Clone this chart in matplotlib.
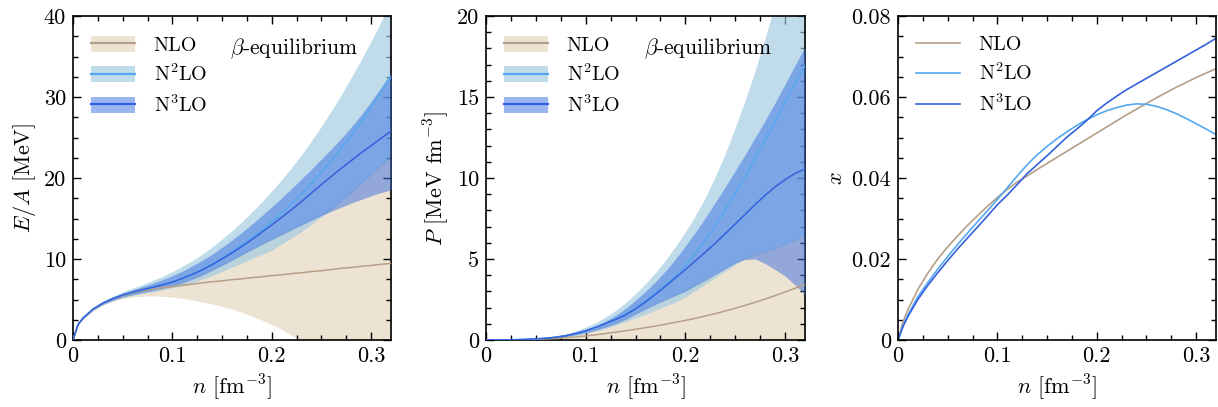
import matplotlib
matplotlib.use("Agg")
import matplotlib.pyplot as plt
from matplotlib.patches import Patch
from matplotlib.lines import Line2D
from matplotlib.ticker import MultipleLocator, FuncFormatter

plt.rcParams["font.family"] = ["cmr10"]
plt.rcParams["mathtext.fontset"] = "cm"
plt.rcParams["axes.formatter.use_mathtext"] = True
plt.rcParams["font.size"] = 15

# density grid [fm^-3]
n = [0, 0.005, 0.01, 0.02, 0.03, 0.04, 0.05, 0.06, 0.07, 0.08, 0.09, 0.10,
     0.11, 0.12, 0.13, 0.14, 0.15, 0.16, 0.17, 0.18, 0.19, 0.20, 0.21, 0.22,
     0.23, 0.24, 0.25, 0.26, 0.27, 0.28, 0.29, 0.30, 0.31, 0.32]

# energy per particle E/A [MeV]: central value, lower and upper band edge
ea_nlo = [0, 1.85, 2.65, 3.75, 4.5, 5.05, 5.45, 5.8, 6.05, 6.3, 6.45, 6.6,
          6.75, 6.9, 7.05, 7.2, 7.3, 7.45, 7.55, 7.7, 7.8, 7.95, 8.05, 8.2,
          8.3, 8.45, 8.55, 8.7, 8.85, 8.95, 9.1, 9.2, 9.35, 9.45]
ea_nlo_lo = [0, 1.8, 2.55, 3.6, 4.3, 4.8, 5.1, 5.3, 5.4, 5.45, 5.4, 5.3,
             5.15, 4.95, 4.7, 4.45, 4.15, 3.8, 3.4, 2.95, 2.45, 1.9, 1.3, 0.6,
             -0.15, -0.95, -1.8, -2.7, -3.6, -4.55, -5.5, -6.5, -7.5, -8.5]
ea_nlo_hi = [0, 1.95, 2.8, 3.95, 4.7, 5.3, 5.8, 6.2, 6.5, 6.7, 6.8, 6.95,
             7.35, 7.8, 8.3, 8.9, 9.5, 10.15, 10.8, 11.45, 12.1, 12.7, 13.3, 13.9,
             14.5, 15.1, 15.65, 16.5, 17.5, 18.5, 19.6, 20.7, 21.85, 23.0]
ea_n2lo = [0, 1.9, 2.7, 3.8, 4.55, 5.1, 5.55, 5.9, 6.2, 6.5, 6.8, 7.15,
           7.6, 8.1, 8.68, 9.35, 10.1, 10.9, 11.75, 12.65, 13.6, 14.6, 15.7, 16.85,
           18.05, 19.35, 20.7, 22.15, 23.65, 25.25, 26.95, 28.75, 30.6, 32.5]
ea_n2lo_lo = [0, 1.85, 2.6, 3.65, 4.35, 4.85, 5.25, 5.5, 5.75, 5.95, 6.2, 6.45,
              6.75, 7.1, 7.5, 7.95, 8.45, 9.0, 9.5, 10.05, 10.55, 11.1, 11.85, 12.6,
              13.4, 14.3, 15.25, 16.2, 17.2, 18.2, 19.3, 20.4, 21.55, 22.7]
ea_n2lo_hi = [0, 2.0, 2.8, 3.95, 4.8, 5.4, 5.95, 6.4, 6.85, 7.35, 7.85, 8.45,
              9.1, 9.8, 10.6, 11.5, 12.45, 13.5, 14.6, 15.8, 17.05, 18.4, 19.8, 21.3,
              22.9, 24.6, 26.4, 28.3, 30.3, 32.4, 34.6, 36.9, 39.3, 41.8]
ea_n3lo = [0, 1.9, 2.7, 3.8, 4.55, 5.1, 5.55, 5.9, 6.2, 6.5, 6.8, 7.15,
           7.6, 8.1, 8.65, 9.3, 10.0, 10.75, 11.55, 12.4, 13.3, 14.2, 15.15, 16.1,
           17.1, 18.15, 19.2, 20.2, 21.2, 22.15, 23.1, 24.0, 24.9, 25.8]
ea_n3lo_lo = [0, 1.85, 2.65, 3.7, 4.4, 4.9, 5.3, 5.6, 5.85, 6.1, 6.35, 6.65,
              7.05, 7.5, 8.0, 8.6, 9.2, 9.85, 10.5, 11.15, 11.8, 12.4, 13.0, 13.6,
              14.2, 14.8, 15.35, 15.9, 16.4, 16.9, 17.35, 17.8, 18.2, 18.55]
ea_n3lo_hi = [0, 1.95, 2.75, 3.9, 4.7, 5.3, 5.8, 6.2, 6.6, 7.0, 7.45, 7.95,
              8.5, 9.15, 9.85, 10.6, 11.45, 12.35, 13.3, 14.3, 15.35, 16.45, 17.55, 18.7,
              19.9, 21.1, 22.35, 23.6, 24.9, 26.3, 27.8, 29.45, 31.2, 33.0]

# pressure P [MeV fm^-3]
p_nlo = [0, 0, 0.001, 0.005, 0.012, 0.025, 0.045, 0.07, 0.1, 0.14, 0.19, 0.25,
         0.32, 0.4, 0.48, 0.57, 0.66, 0.76, 0.86, 0.97, 1.09, 1.21, 1.34, 1.48,
         1.63, 1.79, 1.96, 2.14, 2.33, 2.53, 2.74, 2.96, 3.19, 3.43]
p_nlo_lo = [0, 0, 0, 0.002, 0.005, 0.01, 0.015, 0.02, 0.02, 0.015, 0.0, -0.03,
            -0.07, -0.12, -0.18, -0.25, -0.33, -0.42, -0.52, -0.63, -0.75, -0.88, -1.02, -1.17,
            -1.33, -1.5, -1.68, -1.87, -2.07, -2.28, -2.5, -2.73, -2.97, -3.22]
p_nlo_hi = [0, 0, 0.002, 0.008, 0.02, 0.04, 0.07, 0.11, 0.16, 0.24, 0.35, 0.5,
            0.66, 0.87, 1.1, 1.37, 1.7, 2.0, 2.3, 2.6, 2.87, 3.12, 3.47, 3.82,
            4.17, 4.52, 4.87, 5.12, 5.32, 5.52, 5.72, 5.97, 6.22, 6.52]
p_n2lo = [0, 0, 0.002, 0.008, 0.02, 0.04, 0.07, 0.11, 0.17, 0.26, 0.4, 0.57,
          0.78, 1.02, 1.28, 1.58, 1.96, 2.4, 2.88, 3.4, 3.95, 4.6, 5.35, 6.15,
          7.05, 8.05, 9.05, 10.1, 11.2, 12.35, 13.5, 14.65, 15.8, 16.95]
p_n2lo_lo = [0, 0, 0.001, 0.006, 0.015, 0.03, 0.05, 0.08, 0.12, 0.18, 0.27, 0.38,
             0.52, 0.68, 0.88, 1.1, 1.32, 1.55, 1.8, 2.05, 2.3, 2.6, 3.0, 3.4,
             3.8, 4.2, 4.6, 5.0, 5.2, 5.4, 5.6, 5.85, 6.1, 6.4]
p_n2lo_hi = [0, 0, 0.002, 0.01, 0.025, 0.05, 0.09, 0.15, 0.23, 0.35, 0.52, 0.75,
             1.03, 1.37, 1.78, 2.25, 2.8, 3.42, 4.1, 4.85, 5.7, 6.6, 7.6, 8.7,
             10.0, 11.4, 13.0, 14.7, 16.5, 18.5, 20.6, 22.8, 25.1, 27.5]
p_n3lo = [0, 0, 0.002, 0.008, 0.02, 0.04, 0.07, 0.11, 0.17, 0.26, 0.4, 0.57,
          0.78, 1.02, 1.27, 1.55, 1.92, 2.35, 2.82, 3.32, 3.83, 4.35, 4.88, 5.42,
          5.98, 6.56, 7.16, 7.76, 8.36, 8.93, 9.45, 9.9, 10.28, 10.55]
p_n3lo_lo = [0, 0, 0.001, 0.007, 0.018, 0.035, 0.06, 0.095, 0.14, 0.21, 0.32, 0.45,
             0.6, 0.8, 1.02, 1.28, 1.6, 1.9, 2.2, 2.48, 2.75, 3.0, 3.35, 3.7,
             4.05, 4.4, 4.75, 4.97, 5.0, 4.72, 4.35, 3.95, 3.4, 2.8]
p_n3lo_hi = [0, 0, 0.002, 0.009, 0.022, 0.045, 0.08, 0.13, 0.2, 0.3, 0.45, 0.65,
             0.88, 1.17, 1.52, 1.95, 2.45, 3.0, 3.6, 4.25, 5.0, 5.8, 6.65, 7.55,
             8.5, 9.45, 10.45, 11.45, 12.5, 13.55, 14.65, 15.8, 16.95, 18.1]

# proton fraction x
x_nlo = [0, 0.0045, 0.0075, 0.0125, 0.0165, 0.0200, 0.0230, 0.0257, 0.0283, 0.0307,
         0.0330, 0.0352, 0.0372, 0.0390, 0.0405, 0.0421, 0.0436, 0.0451, 0.0466, 0.0481,
         0.0496, 0.0511, 0.0526, 0.0541, 0.0556, 0.0570, 0.0584, 0.0598, 0.0611, 0.0624,
         0.0636, 0.0648, 0.0659, 0.0670]
x_n2lo = [0, 0.0035, 0.0062, 0.0107, 0.0142, 0.0175, 0.0206, 0.0236, 0.0264, 0.0292,
          0.0319, 0.0347, 0.0376, 0.0405, 0.0433, 0.0457, 0.0478, 0.0497, 0.0514, 0.0530,
          0.0544, 0.0556, 0.0566, 0.0574, 0.0580, 0.0583, 0.0582, 0.0577, 0.0569, 0.0559,
          0.0547, 0.0534, 0.0521, 0.0507]
x_n3lo = [0, 0.0033, 0.0058, 0.0100, 0.0135, 0.0166, 0.0196, 0.0225, 0.0252, 0.0279,
          0.0306, 0.0334, 0.0358, 0.0384, 0.0411, 0.0433, 0.0455, 0.0478, 0.0501, 0.0521,
          0.0542, 0.0566, 0.0585, 0.0602, 0.0618, 0.0632, 0.0646, 0.0660, 0.0674, 0.0688,
          0.0702, 0.0716, 0.0730, 0.0745]

orders = ["NLO", r"N$^2$LO", r"N$^3$LO"]
line_cols = ["#b59f87", "#55a8f0", "#3461dd"]
fill_cols = ["#d9c29f", "#9ecae1", "#3a6fe0"]
fill_alpha = [0.45, 0.65, 0.5]

fig = plt.figure(figsize=(12.18, 4.07), dpi=100)
ax1 = fig.add_axes([73 / 1218, 67 / 407, 318 / 1218, 324 / 407])
ax2 = fig.add_axes([486 / 1218, 67 / 407, 319 / 1218, 324 / 407])
ax3 = fig.add_axes([898 / 1218, 67 / 407, 318 / 1218, 324 / 407])

fmt = FuncFormatter(lambda v, pos: "%g" % round(v, 6))


def band_panel(ax, cen, lo, hi):
    for i in range(3):
        ax.fill_between(n, lo[i], hi[i], color=fill_cols[i], alpha=fill_alpha[i],
                        lw=0, zorder=1 + i)
    for i in range(3):
        ax.plot(n, cen[i], color=line_cols[i], lw=1.1, zorder=5 + i)
    handles = [(Patch(facecolor=fill_cols[i], alpha=fill_alpha[i], lw=0),
                Line2D([], [], color=line_cols[i], lw=1.6)) for i in range(3)]
    ax.legend(handles, orders, loc="upper left", frameon=False, fontsize=14.5,
              handlelength=2.2, handleheight=0.85, handletextpad=0.9,
              labelspacing=0.45, bbox_to_anchor=(0.0, 0.995))
    ax.text(0.494, 0.9, r"$\beta$-equilibrium", transform=ax.transAxes,
            fontsize=15.5, va="center", ha="left")


band_panel(ax1, [ea_nlo, ea_n2lo, ea_n3lo], [ea_nlo_lo, ea_n2lo_lo, ea_n3lo_lo],
           [ea_nlo_hi, ea_n2lo_hi, ea_n3lo_hi])
band_panel(ax2, [p_nlo, p_n2lo, p_n3lo], [p_nlo_lo, p_n2lo_lo, p_n3lo_lo],
           [p_nlo_hi, p_n2lo_hi, p_n3lo_hi])

for i, xs in enumerate([x_nlo, x_n2lo, x_n3lo]):
    ax3.plot(n, xs, color=line_cols[i], lw=1.2, label=orders[i])
ax3.legend(loc="upper left", frameon=False, fontsize=14.5, handlelength=2.2,
           handletextpad=0.9, labelspacing=0.45, bbox_to_anchor=(0.0, 0.995))

ax1.set_ylim(0, 40)
ax1.yaxis.set_major_locator(MultipleLocator(10))
ax1.yaxis.set_minor_locator(MultipleLocator(2.5))
ax1.set_ylabel(r"$E/A$ [MeV]", fontsize=16)

ax2.set_ylim(0, 20)
ax2.yaxis.set_major_locator(MultipleLocator(5))
ax2.yaxis.set_minor_locator(MultipleLocator(1))
ax2.set_ylabel(r"$P$ [MeV fm$^{-3}$]", fontsize=16)

ax3.set_ylim(0, 0.08)
ax3.yaxis.set_major_locator(MultipleLocator(0.02))
ax3.yaxis.set_minor_locator(MultipleLocator(0.005))
ax3.set_ylabel(r"$x$", fontsize=16)

for ax in (ax1, ax2, ax3):
    ax.set_xlim(0, 0.32)
    ax.xaxis.set_major_locator(MultipleLocator(0.1))
    ax.xaxis.set_minor_locator(MultipleLocator(0.025))
    ax.xaxis.set_major_formatter(fmt)
    ax.yaxis.set_major_formatter(fmt)
    ax.set_xlabel(r"$n$ [fm$^{-3}$]", fontsize=16)
    ax.tick_params(which="both", direction="in", top=True, right=True,
                   labelsize=16, width=1.0)
    ax.tick_params(which="major", length=6, pad=5)
    ax.tick_params(which="minor", length=3.5)
    for s in ax.spines.values():
        s.set_linewidth(1.2)

fig.savefig("out.png", dpi=100)
